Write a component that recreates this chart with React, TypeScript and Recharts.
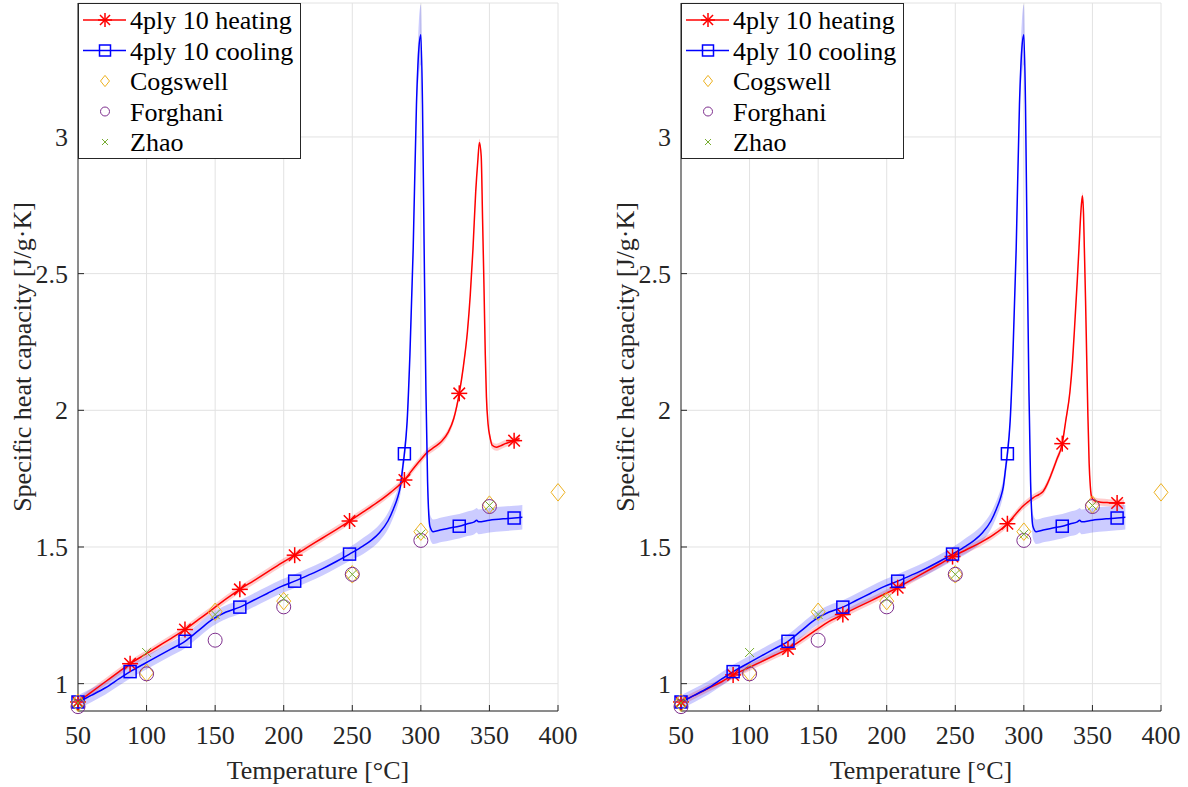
import React from 'react';
import {
  ComposedChart,
  Line,
  Area,
  Scatter,
  XAxis,
  YAxis,
  CartesianGrid,
  Label,
} from 'recharts';

const FONT = '"Liberation Serif", "Times New Roman", serif';
const INK = '#262626';
const RED = '#ff0000';
const BLUE = '#0000ff';
const GOLD = '#EDB120';
const PURPLE = '#7E2F8E';
const GREEN = '#77AC30';
const FS = 26;

const xTicks = [50, 100, 150, 200, 250, 300, 350, 400];
const yTicks = [1, 1.5, 2, 2.5, 3];

// temperatures where the run curves carry a marker
const markerT = [50, 88, 128, 168, 208, 248, 288, 328, 368];

// heating run, left panel
const heatLeftT = [50, 60, 70, 80, 88, 98, 108, 118, 128, 138, 148, 158, 168, 178, 188, 198, 208, 218, 228, 238, 248, 258, 268, 278, 288, 295, 300, 305, 310, 315, 320, 324, 328, 331, 334, 336, 338, 340, 341.5, 342.7, 344, 345, 346, 347, 347.8, 349, 350.5, 352, 355, 358, 361.5, 365, 368, 372];
const heatLeftCp = [0.933, 0.97, 1.007, 1.044, 1.073, 1.104, 1.135, 1.166, 1.198, 1.235, 1.272, 1.31, 1.345, 1.376, 1.408, 1.44, 1.47, 1.501, 1.532, 1.563, 1.595, 1.628, 1.662, 1.7, 1.745, 1.79, 1.82, 1.848, 1.866, 1.886, 1.92, 1.97, 2.062, 2.16, 2.29, 2.42, 2.59, 2.8, 2.91, 2.98, 2.93, 2.7, 2.46, 2.2, 2.05, 1.95, 1.9, 1.872, 1.865, 1.87, 1.878, 1.884, 1.889, 1.897];

// heating run, right panel
const heatRightT = [50, 60, 70, 80, 88, 98, 108, 118, 128, 138, 148, 158, 168, 178, 188, 198, 208, 218, 228, 238, 248, 258, 268, 278, 288, 294, 299, 303, 307, 311, 314, 317, 320, 324, 328, 330.5, 333.6, 335.5, 337.3, 339, 340.2, 341.5, 342.7, 343.5, 344.1, 345, 345.8, 346.7, 347.6, 348.5, 349.5, 351.9, 356, 362, 368, 373];
const heatRightCp = [0.933, 0.958, 0.983, 1.008, 1.032, 1.055, 1.079, 1.103, 1.127, 1.16, 1.195, 1.228, 1.253, 1.278, 1.302, 1.327, 1.351, 1.38, 1.408, 1.436, 1.465, 1.49, 1.515, 1.545, 1.585, 1.62, 1.648, 1.665, 1.681, 1.692, 1.703, 1.73, 1.766, 1.82, 1.878, 1.96, 2.068, 2.18, 2.331, 2.48, 2.594, 2.72, 2.785, 2.72, 2.594, 2.4, 2.2, 1.98, 1.806, 1.72, 1.681, 1.668, 1.664, 1.662, 1.661, 1.661];

const heatBandHalf = 0.013;

// cooling run (same in both panels)
const coolT = [50, 60, 70, 80, 88, 98, 108, 118, 128, 138, 148, 158, 168, 178, 188, 198, 208, 218, 228, 238, 248, 258, 264, 270, 276, 280, 283, 285, 287, 288, 290, 292, 294.4, 296.8, 298.5, 300, 301.2, 302.4, 303.7, 304.9, 306.6, 309, 315, 322, 328, 334, 339, 340.7, 342, 350, 360, 368, 374];
const coolCp = [0.933, 0.958, 0.985, 1.018, 1.044, 1.072, 1.1, 1.127, 1.155, 1.195, 1.235, 1.262, 1.28, 1.305, 1.33, 1.355, 1.375, 1.397, 1.42, 1.446, 1.474, 1.504, 1.525, 1.553, 1.595, 1.639, 1.68, 1.72, 1.8, 1.841, 1.96, 2.2, 2.59, 3.12, 3.32, 3.374, 3.12, 2.59, 2.07, 1.74, 1.576, 1.556, 1.563, 1.57, 1.576, 1.585, 1.592, 1.598, 1.592, 1.598, 1.603, 1.606, 1.609];
const coolSpread = [0.025, 0.025, 0.025, 0.025, 0.025, 0.025, 0.025, 0.025, 0.025, 0.025, 0.025, 0.025, 0.025, 0.025, 0.025, 0.025, 0.025, 0.025, 0.025, 0.025, 0.025, 0.03, 0.03, 0.03, 0.03, 0.03, 0.03, 0.03, 0.03, 0.03, 0.03, 0.03, 0.03, 0.03, 0.1, 0.11, 0.08, 0.03, 0.03, 0.03, 0.045, 0.045, 0.045, 0.045, 0.045, 0.045, 0.045, 0.045, 0.045, 0.045, 0.045, 0.045, 0.045];

// literature values
const litT = [50, 100, 150, 200, 250, 300, 350, 400];
const cogswell = [0.93, 1.04, 1.263, 1.302, 1.4, 1.556, 1.655, 1.7];
const forghani = [0.916, 1.036, 1.159, 1.281, 1.4, 1.524, 1.648];
const zhao = [0.93, 1.114, 1.253, 1.311, 1.4, 1.547, 1.652];

const toPts = (ts: number[], cps: number[]) => cps.map((cp, i) => ({ t: ts[i], cp }));
const toBand = (ts: number[], cps: number[], half: (i: number) => number) =>
  cps.map((cp, i) => ({ t: ts[i], range: [cp - half(i), cp + half(i)] }));

const coolPts = toPts(coolT, coolCp);
const coolBand = toBand(coolT, coolCp, (i) => coolSpread[i]);
const cogPts = toPts(litT, cogswell);
const forPts = toPts(litT, forghani);
const zhaoPts = toPts(litT, zhao);

type M = { cx: number; cy: number; s?: number; color: string };

const Star = ({ cx, cy, s = 8, color }: M) => {
  const d = s * 0.72;
  return (
    <g stroke={color} strokeWidth={1.5} fill="none">
      <line x1={cx - s} y1={cy} x2={cx + s} y2={cy} />
      <line x1={cx} y1={cy - s} x2={cx} y2={cy + s} />
      <line x1={cx - d} y1={cy - d} x2={cx + d} y2={cy + d} />
      <line x1={cx - d} y1={cy + d} x2={cx + d} y2={cy - d} />
    </g>
  );
};
const Square = ({ cx, cy, s = 6, color }: M) => (
  <rect x={cx - s} y={cy - s} width={2 * s} height={2 * s} stroke={color} strokeWidth={1.5} fill="none" />
);
const Diamond = ({ cx, cy, s = 7, color }: M) => (
  <polygon
    points={`${cx},${cy - s * 1.25} ${cx + s},${cy} ${cx},${cy + s * 1.25} ${cx - s},${cy}`}
    stroke={color}
    strokeWidth={1}
    fill="none"
  />
);
const Circle = ({ cx, cy, s = 7, color }: M) => (
  <circle cx={cx} cy={cy} r={s} stroke={color} strokeWidth={1} fill="none" />
);
const Cross = ({ cx, cy, s = 4.5, color }: M) => (
  <g stroke={color} strokeWidth={1}>
    <line x1={cx - s} y1={cy - s} x2={cx + s} y2={cy + s} />
    <line x1={cx - s} y1={cy + s} x2={cx + s} y2={cy - s} />
  </g>
);

const markerDot = (Mark: React.FC<M>, color: string) => (p: any) =>
  markerT.includes(p.payload.t) ? (
    <Mark key={`m${p.index}`} cx={p.cx} cy={p.cy} color={color} />
  ) : (
    <g key={`m${p.index}`} />
  );

const legendRows = [
  { label: '4ply 10 heating', color: RED, line: true, Mark: Star, s: 7 },
  { label: '4ply 10 cooling', color: BLUE, line: true, Mark: Square, s: 5.5 },
  { label: 'Cogswell', color: GOLD, line: false, Mark: Diamond, s: 4.5 },
  { label: 'Forghani', color: PURPLE, line: false, Mark: Circle, s: 4.5 },
  { label: 'Zhao', color: GREEN, line: false, Mark: Cross, s: 3 },
];

const LegendBox = () => (
  <svg width={224} height={157} style={{ position: 'absolute', left: 78, top: 3 }}>
    <rect x={0.5} y={0.5} width={222} height={155} fill="#fff" stroke={INK} strokeWidth={1} />
    {legendRows.map((r, i) => {
      const cy = 17 + i * 30.5;
      return (
        <g key={r.label}>
          {r.line && <line x1={5} x2={48} y1={cy} y2={cy} stroke={r.color} strokeWidth={1.5} />}
          <r.Mark cx={27} cy={cy} s={r.s} color={r.color} />
          <text x={52} y={cy + 9} fontSize={FS} fontFamily={FONT} fill="#000">
            {r.label}
          </text>
        </g>
      );
    })}
  </svg>
);

const YTitle = (props: any) => {
  const vb = props.viewBox;
  const x = vb.x + 13;
  const y = vb.y + vb.height / 2;
  return (
    <text
      x={x}
      y={y}
      transform={`rotate(-90 ${x} ${y})`}
      textAnchor="middle"
      fontSize={FS}
      fontFamily={FONT}
      fill={INK}
    >
      Specific heat capacity [J/g·K]
    </text>
  );
};

const XTitle = (props: any) => {
  const vb = props.viewBox;
  return (
    <text
      x={vb.x + vb.width / 2}
      y={vb.y + vb.height - 8}
      textAnchor="middle"
      fontSize={FS}
      fontFamily={FONT}
      fill={INK}
    >
      Temperature [°C]
    </text>
  );
};

const XTick = (p: any) => (
  <text x={p.x} y={p.y} dy="0.71em" textAnchor="middle" fontSize={FS} fontFamily={FONT} fill={INK}>
    {p.payload.value}
  </text>
);
const YTick = (p: any) => (
  <text x={p.x} y={p.y} dy="0.35em" textAnchor="end" fontSize={FS} fontFamily={FONT} fill={INK}>
    {p.payload.value}
  </text>
);

const Panel = ({ heatT, heatCp, left }: { heatT: number[]; heatCp: number[]; left: number }) => {
  const heatPts = toPts(heatT, heatCp);
  const heatBand = toBand(heatT, heatCp, () => heatBandHalf);
  return (
    <div style={{ position: 'absolute', left, top: 0, width: 600, height: 787 }}>
      <ComposedChart
        width={600}
        height={787}
        margin={{ top: 3, right: 42, bottom: 0, left: 18 }}
        style={{ fontFamily: FONT }}
      >
        <CartesianGrid stroke="#e2e2e2" strokeWidth={1} />
        <XAxis
          type="number"
          dataKey="t"
          domain={[50, 400]}
          ticks={xTicks}
          interval={0}
          height={76}
          stroke={INK}
          tickSize={-6}
          tickMargin={21}
          tick={XTick}
        >
          <Label content={XTitle} />
        </XAxis>
        <XAxis
          xAxisId="top"
          orientation="top"
          type="number"
          dataKey="t"
          domain={[50, 400]}
          ticks={xTicks}
          interval={0}
          height={0}
          stroke={INK}
          tickSize={-6}
          tick={false}
        />
        <YAxis
          type="number"
          domain={[0.9, 3.49]}
          ticks={yTicks}
          interval={0}
          width={60}
          stroke={INK}
          tickSize={-6}
          tickMargin={16}
          tick={YTick}
        >
          <Label content={YTitle} />
        </YAxis>
        <YAxis
          yAxisId="right"
          orientation="right"
          type="number"
          domain={[0.9, 3.49]}
          ticks={yTicks}
          interval={0}
          width={0}
          stroke={INK}
          tickSize={-6}
          tick={false}
        />

        <Area
          data={heatBand}
          dataKey="range"
          type="monotone"
          stroke="none"
          fill={RED}
          fillOpacity={0.2}
          isAnimationActive={false}
          activeDot={false}
        />
        <Line
          data={heatPts}
          dataKey="cp"
          type="monotone"
          stroke={RED}
          strokeWidth={1.5}
          dot={markerDot(Star, RED)}
          activeDot={false}
          isAnimationActive={false}
        />
        <Area
          data={coolBand}
          dataKey="range"
          type="monotone"
          stroke="none"
          fill={BLUE}
          fillOpacity={0.2}
          isAnimationActive={false}
          activeDot={false}
        />
        <Line
          data={coolPts}
          dataKey="cp"
          type="monotone"
          stroke={BLUE}
          strokeWidth={1.5}
          dot={markerDot(Square, BLUE)}
          activeDot={false}
          isAnimationActive={false}
        />
        <Scatter data={cogPts} dataKey="cp" isAnimationActive={false} shape={(p: any) => <Diamond cx={p.cx} cy={p.cy} color={GOLD} />} />
        <Scatter data={forPts} dataKey="cp" isAnimationActive={false} shape={(p: any) => <Circle cx={p.cx} cy={p.cy} color={PURPLE} />} />
        <Scatter data={zhaoPts} dataKey="cp" isAnimationActive={false} shape={(p: any) => <Cross cx={p.cx} cy={p.cy} color={GREEN} />} />
      </ComposedChart>
      <LegendBox />
    </div>
  );
};

export default function App() {
  return (
    <div
      style={{
        position: 'absolute',
        left: 0,
        top: 0,
        width: 1188,
        height: 787,
        background: '#fff',
        fontFamily: FONT,
      }}
    >
      <Panel heatT={heatLeftT} heatCp={heatLeftCp} left={0} />
      <Panel heatT={heatRightT} heatCp={heatRightCp} left={603} />
    </div>
  );
}
